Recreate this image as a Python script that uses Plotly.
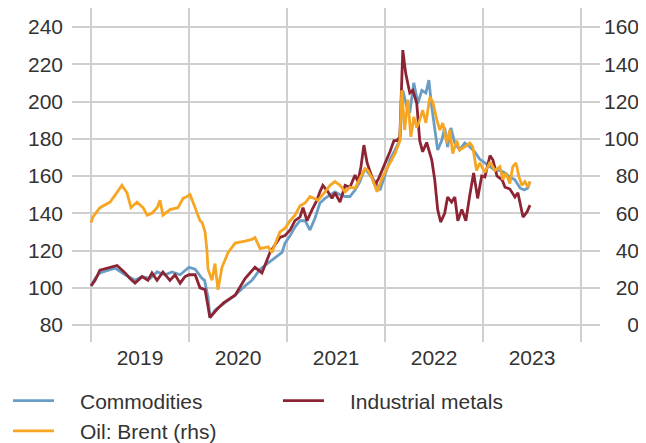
import plotly.graph_objects as go

# ---------------- data ----------------
comm_dates = ["2019-01-01","2019-01-16","2019-02-03","2019-03-13","2019-03-31","2019-05-08","2019-06-14",
    "2019-07-10","2019-08-09","2019-09-04","2019-10-04","2019-10-30","2019-11-29","2020-01-01","2020-01-24",
    "2020-02-19","2020-02-28","2020-03-12","2020-03-19","2020-04-07","2020-04-26","2020-05-26","2020-06-21",
    "2020-07-28","2020-08-23","2020-09-22","2020-10-29","2020-12-13","2020-12-24","2021-01-12","2021-01-30",
    "2021-02-18","2021-03-09","2021-03-27","2021-04-15","2021-05-03","2021-05-22","2021-06-10","2021-06-28",
    "2021-07-17","2021-08-05","2021-08-23","2021-09-11","2021-09-29","2021-10-18","2021-11-06","2021-11-24",
    "2021-12-13","2021-12-31","2022-01-19","2022-02-07","2022-02-25","2022-03-08","2022-03-23","2022-04-03",
    "2022-04-18","2022-05-03","2022-05-18","2022-06-02","2022-06-13","2022-06-24","2022-07-05","2022-07-16",
    "2022-07-31","2022-08-11","2022-08-22","2022-09-03","2022-09-18","2022-10-06","2022-10-25","2022-11-13",
    "2022-12-01","2022-12-20","2023-01-08","2023-01-27","2023-02-15","2023-03-05","2023-03-24","2023-04-11",
    "2023-04-30","2023-05-19","2023-06-03","2023-06-17","2023-06-25"]
comm_vals = [101,105,108,109.5,110.6,107,104,
    106,105,108.5,107,108.5,107,111,110,
    105,104,95,84,88,90,93,96,
    101,104,110,114,119,124,128,132.6,
    136,136,131,137.5,145.5,148,150,151.5,
    150,149,149,152.5,157,164,160.5,157,
    152.5,161,168.6,174,179,206,197,194,
    210,199,206,204.6,211.5,197,186,174,
    179,186,175.6,185.8,177.7,174,177.7,175.6,
    173,169,167,165,163,163,161.6,159.5,
    158,153.6,152.5,153.6,157]

metal_dates = ["2019-01-01","2019-01-16","2019-02-03","2019-03-13","2019-04-08","2019-05-08","2019-05-26",
    "2019-06-14","2019-07-10","2019-08-01","2019-08-16","2019-09-04","2019-09-26","2019-10-22","2019-11-10",
    "2019-11-29","2019-12-17","2020-01-01","2020-01-24","2020-02-11","2020-03-01","2020-03-12","2020-03-19",
    "2020-04-18","2020-05-10","2020-06-21","2020-07-28","2020-09-03","2020-09-29","2020-10-29","2020-12-05",
    "2020-12-24","2021-01-12","2021-01-30","2021-02-18","2021-03-01","2021-03-16","2021-04-04","2021-04-22",
    "2021-05-03","2021-05-14","2021-06-02","2021-06-17","2021-06-28","2021-07-17","2021-08-05","2021-08-23",
    "2021-09-11","2021-09-22","2021-10-03","2021-10-14","2021-10-26","2021-11-06","2021-11-24","2021-12-09",
    "2021-12-24","2022-01-08","2022-01-19","2022-02-03","2022-02-14","2022-02-25","2022-03-08","2022-03-19",
    "2022-04-03","2022-04-14","2022-04-29","2022-05-10","2022-05-21","2022-06-05","2022-06-24","2022-07-05",
    "2022-07-16","2022-07-27","2022-08-11","2022-08-22","2022-09-06","2022-09-18","2022-09-29","2022-10-14",
    "2022-10-29","2022-11-13","2022-11-27","2022-12-12","2022-12-27","2023-01-08","2023-01-27","2023-02-07",
    "2023-02-22","2023-03-13","2023-03-24","2023-04-11","2023-04-30","2023-05-11","2023-05-30","2023-06-14",
    "2023-06-25"]
metal_vals = [101,104,109.5,111,112,108,105,
    102.5,106,104,108,104,108.5,104,107,
    102.5,106,107,107,100,99,90,84,
    89,92,96,105,111,108,119,127,
    128,131,136,138,143,136,142,147,
    151.5,155,151.5,148,151,146,155,154,
    160.5,157,165,176.6,167,162,155,159,
    164,170,173,179,179,181,227.6,215,
    204.6,206,199,179,173,178,168.6,158,
    142,135.3,140,148.7,146,148.7,136,142,
    136,150,161.6,148,160,159.5,171,168.6,
    160,158,154,153,148.7,151,138,140.7,
    144.4]

oil_dates = ["2019-01-01","2019-01-08","2019-02-03","2019-03-13","2019-04-19","2019-04-26","2019-05-15",
    "2019-05-30","2019-06-21","2019-07-14","2019-07-29","2019-08-16","2019-09-04","2019-09-15","2019-09-26",
    "2019-10-22","2019-11-21","2019-12-10","2019-12-25","2020-01-05","2020-01-24","2020-02-11","2020-02-19",
    "2020-03-01","2020-03-08","2020-03-12","2020-03-27","2020-04-07","2020-04-18","2020-05-03","2020-05-26",
    "2020-06-21","2020-07-28","2020-08-23","2020-09-03","2020-09-22","2020-10-22","2020-11-05","2020-12-05",
    "2020-12-24","2021-01-12","2021-01-30","2021-02-18","2021-03-09","2021-03-27","2021-04-26","2021-05-22",
    "2021-06-10","2021-06-28","2021-07-17","2021-08-05","2021-08-23","2021-09-11","2021-09-29","2021-10-18",
    "2021-10-29","2021-11-13","2021-12-02","2021-12-21","2022-01-08","2022-01-19","2022-02-07","2022-02-25",
    "2022-03-04","2022-03-15","2022-03-27","2022-04-07","2022-04-18","2022-04-29","2022-05-10","2022-05-21",
    "2022-06-02","2022-06-17","2022-06-28","2022-07-13","2022-07-24","2022-08-04","2022-08-19","2022-08-30",
    "2022-09-10","2022-09-25","2022-10-06","2022-10-25","2022-11-13","2022-11-24","2022-12-08","2022-12-20",
    "2023-01-08","2023-01-27","2023-02-15","2023-03-05","2023-03-16","2023-03-27","2023-04-11","2023-04-22",
    "2023-05-04","2023-05-15","2023-05-26","2023-06-06","2023-06-17","2023-06-25"]
oil_vals = [55,58,63,66,73.5,75,71,
    63,66,63,59,60,63,67,59,
    62,63,68,69,70,63,56,55,
    50,40,30,24,33,19,31,39,
    44,45,46,47,41,42,39,50,
    52,56,59,64,65.5,69,67,71.5,
    75,77,75,71.5,74,73.5,79,84,
    83,79,71.5,79,84,87,92,99,
    126,104.7,121,101,111.7,106,110,115.4,
    108.5,122.4,119.7,110,104.7,108.5,97.7,104.7,
    92,99,94,95.6,97.7,95.6,83,87,
    82,87.5,83,85,78,81.6,76,85,
    87,79.5,75,77,74,77]

left_ticks = [80, 100, 120, 140, 160, 180, 200, 220, 240]
right_ticks = [0, 20, 40, 60, 80, 100, 120, 140, 160]
series_names = ["Commodities", "Industrial metals", "Oil: Brent (rhs)"]

# ---------------- styling ----------------
FONT = "Liberation Sans"
TXT = "#333333"
GRID = "#cfcfcf"
C_COMM = "#6a9dc5"
C_METAL = "#8d2433"
C_OIL = "#f6a623"

FS = "\u2007"   # figure space: right-aligns the rhs tick labels
EM = "\u2003"   # gap between legend line and legend text
right_text = [FS * (3 - len(str(v))) + str(v) for v in right_ticks]

fig = go.Figure()
fig.add_trace(go.Scatter(x=comm_dates, y=comm_vals, name=EM + series_names[0], mode="lines",
                         line=dict(color=C_COMM, width=2.8)))
fig.add_trace(go.Scatter(x=metal_dates, y=metal_vals, name=EM + series_names[1], mode="lines",
                         line=dict(color=C_METAL, width=2.8)))
fig.add_trace(go.Scatter(x=oil_dates, y=oil_vals, name=EM + series_names[2], mode="lines", yaxis="y2",
                         line=dict(color=C_OIL, width=2.8)))

fig.update_layout(
    width=638, height=435,
    margin=dict(l=64, r=46, t=0, b=101, autoexpand=False),
    paper_bgcolor="white", plot_bgcolor="white",
    font=dict(family=FONT, size=21, color=TXT),
    showlegend=True,
    legend=dict(orientation="h", x=-64 / 528, xanchor="left", y=-0.115, yanchor="top",
                entrywidth=214, entrywidthmode="pixels", itemwidth=41,
                font=dict(size=21, color=TXT), bgcolor="rgba(0,0,0,0)", tracegroupgap=0),
    xaxis=dict(type="date", range=["2018-10-22", "2024-03-12"],
               tick0="2019-01-01", dtick="M12", ticklabelmode="period", tickformat="%Y",
               showgrid=True, gridcolor=GRID, gridwidth=1.5, ticks="", showline=False,
               zeroline=False, ticklabelstandoff=1),
    yaxis=dict(range=[70.9, 250.2], tickvals=left_ticks, showgrid=True, gridcolor=GRID,
               gridwidth=1.5, ticks="", showline=False, zeroline=False, ticklabelstandoff=8),
    yaxis2=dict(range=[-9.1, 170.2], tickvals=right_ticks, ticktext=right_text, overlaying="y",
                side="right", showgrid=False, ticks="", showline=False, zeroline=False,
                ticklabelstandoff=3),
)

fig.write_html("out.html")
